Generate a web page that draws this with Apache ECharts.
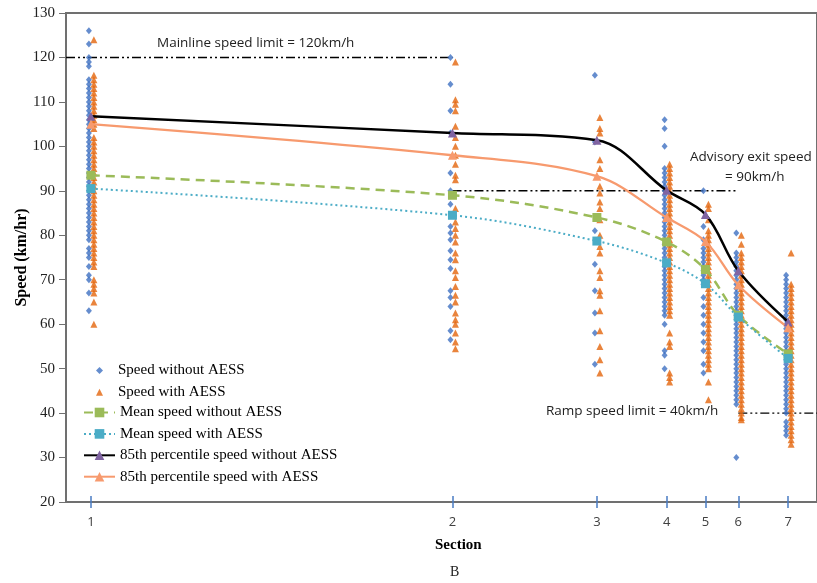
<!DOCTYPE html>
<html>
<head>
<meta charset="utf-8">
<script src="https://cdn.jsdelivr.net/npm/echarts@6/dist/echarts.min.js"></script>
<style>
  html, body { margin: 0; padding: 0; background: #fff; }
  #chart { width: 817px; height: 583px; }
</style>
</head>
<body>
<div id="chart"></div>
<script>
// Section labels and their along-road positions (distance units on the x axis)
const sectionLabels = ['1', '2', '3', '4', '5', '6', '7'];
const sectionPos = [25, 388, 533, 603, 642, 675, 725];
const xMax = 754;

// Individual spot speeds (km/h) per section, without the AESS
const speedWithout = [
  [126, 123, 120, 119, 118, 115, 114, 113, 112, 111, 110, 109, 108, 107, 106, 105, 104, 103, 102, 101, 100, 99, 98, 97, 96, 95, 94, 93, 92, 91, 90, 89, 88, 87, 86, 85, 84, 83, 82, 81, 80, 79, 77, 76, 75, 73, 71, 70, 67, 63],
  [120, 114, 108, 103, 94, 90, 87, 82, 80.5, 79, 76.5, 74.5, 72.5, 67.5, 66, 64, 58.5, 56.5],
  [116, 101, 81, 73.5, 67.5, 62.5, 58, 51],
  [106, 104, 100, 95, 94, 93, 92, 91, 90, 89, 88, 87, 86, 85, 84, 83, 82, 81, 80, 79, 78, 77, 76, 75, 74, 73, 72, 71, 70, 69, 68, 67, 66, 65, 64, 63, 62, 60, 54, 53, 50],
  [90, 82, 79, 77, 76, 75, 74, 73, 72, 71, 70, 69, 66, 64, 62, 60, 58, 56, 54, 51, 49],
  [80.5, 76, 75, 74, 73, 72, 71, 70, 69, 68, 67, 66, 65, 64, 63, 62, 61, 60, 59, 58, 57, 56, 55, 54, 53, 52, 51, 50, 49, 48, 47, 46, 45, 44, 43, 42, 30],
  [71, 70, 69, 68, 67, 66, 65, 64, 63, 62, 61, 60, 59, 58, 57, 56, 55, 54, 53, 52, 51, 50, 49, 48, 47, 46, 45, 44, 43, 42, 41, 40, 38, 37, 36, 35]
];

// Individual spot speeds (km/h) per section, with the AESS
const speedWith = [
  [124, 116, 115, 114, 113, 112, 111, 110, 109, 108, 107, 106, 105, 104, 102, 101, 100, 99, 98, 97, 96, 95, 94, 93, 92, 91, 90, 89, 88, 87, 86, 85, 84, 83, 82, 81, 80, 79, 78, 77, 76, 75, 74, 73, 70, 69, 68, 67, 65, 60],
  [119, 110.5, 109.5, 108, 104.5, 102, 100, 98, 96, 93.5, 92.5, 86, 83, 81.5, 80, 78.5, 76, 74.5, 72, 70.5, 68.5, 66.5, 65, 62.5, 61, 60, 58, 56, 54.5],
  [106.5, 104, 103, 97, 95, 91, 89.5, 87.5, 86, 83.5, 80, 77.5, 76, 72, 70.5, 67.5, 66.5, 63, 58.5, 55, 52, 49],
  [96, 95, 94, 93, 92, 91, 90, 89, 88, 87, 86, 85, 84, 83, 82, 81, 80, 79, 78, 77, 76, 75, 74, 73, 72, 71, 70, 69, 68, 67, 66, 65, 64, 63, 62, 58, 56, 55, 49, 48, 47],
  [87, 86, 83.5, 81, 80, 79, 78, 77, 76, 75, 74, 73, 72, 71, 70, 69, 68, 67, 66, 65, 64, 63, 62, 61, 60, 59, 58, 57, 56, 55, 54, 53, 52, 51, 50, 47, 43],
  [80, 78, 76, 75, 74, 73, 72, 71, 70, 69, 68, 67, 66, 65, 64, 63, 62, 61, 60, 59, 58, 57, 56, 55, 54, 53, 52, 51, 50, 49, 48, 47, 46, 45, 44, 43, 42, 41, 40, 39, 38.5],
  [76, 69, 68, 67, 66, 65, 64, 63, 62, 61, 60, 59, 58, 57, 56, 55, 54, 53, 52, 51, 50, 49, 48, 47, 46, 45, 44, 43, 42, 41, 40, 39, 38, 37, 36, 35, 34, 33]
];

// Summary speeds per section (km/h)
const meanWithout = [93.5, 89, 84, 78.5, 72.3, 62, 53.3];
const meanWith = [90.5, 84.5, 78.7, 73.8, 69.1, 61.6, 52.3];
const p85Without = [106.8, 103, 101.4, 90.1, 84.7, 72, 60.5];
const p85With = [105, 98, 93.3, 84, 78.6, 68.8, 59.2];

// Posted / advisory limits (km/h)
const mainlineLimit = 120;
const advisoryLimit = 90;
const rampLimit = 40;

const seriesNames = [
  'Speed without AESS',
  'Speed with AESS',
  'Mean speed without AESS',
  'Mean speed with AESS',
  '85th percentile speed without AESS',
  '85th percentile speed with AESS'
];

function scatterPoints(groups) {
  const pts = [];
  groups.forEach((vals, i) => vals.forEach(v => pts.push([sectionPos[i], v])));
  return pts;
}
function linePoints(vals) {
  return vals.map((v, i) => [sectionPos[i], v]);
}

const serif = '"Liberation Serif", "DejaVu Serif", serif';
const sans = '"Open Sans", "Liberation Sans", sans-serif';

const limitStyle = { color: '#000', width: 1.4, type: [9, 3, 2, 3, 2, 3] };
function limitLine(x0, x1, y) {
  return {
    type: 'line', silent: true, symbol: 'none', z: 1,
    data: [[x0, y], [x1, y]],
    lineStyle: limitStyle
  };
}

const legendText = { fontFamily: serif, fontSize: 15, lineHeight: 15, color: '#000' };

const chart = echarts.init(document.getElementById('chart'), null, { renderer: 'canvas' });

chart.setOption({
  animation: false,
  backgroundColor: '#fff',
  grid: {
    left: 66, right: -3, top: 13, bottom: 81,
    show: true, borderColor: '#707070', borderWidth: 2, backgroundColor: 'transparent'
  },
  legend: [
    {
      data: seriesNames.slice(0, 2),
      orient: 'vertical', left: 96, top: 363, padding: 0,
      itemWidth: 7, itemHeight: 7, itemGap: 6.7,
      textStyle: Object.assign({}, legendText, { padding: [0, 0, 0, 10] }),
      selectedMode: false
    },
    {
      data: seriesNames.slice(2),
      orient: 'vertical', left: 83, top: 405, padding: 0,
      itemWidth: 31, itemHeight: 12, itemGap: 6.4,
      textStyle: legendText,
      selectedMode: false
    }
  ],
  xAxis: [
    {
      type: 'value', min: 0, max: xMax, position: 'bottom',
      splitLine: { show: false },
      axisLine: { lineStyle: { color: '#707070', width: 2 } },
      axisTick: { customValues: sectionPos, length: 6, lineStyle: { color: '#4a7cc4', width: 1.5 } },
      axisLabel: {
        customValues: sectionPos,
        formatter: v => sectionLabels[sectionPos.indexOf(v)],
        fontFamily: sans, fontSize: 13, color: '#404040', margin: 14
      }
    },
    {
      type: 'value', min: 0, max: xMax, position: 'bottom',
      splitLine: { show: false },
      axisLine: { show: false },
      axisTick: { customValues: sectionPos, inside: true, length: 6, lineStyle: { color: '#4a7cc4', width: 1.5 } },
      axisLabel: { show: false }
    }
  ],
  yAxis: {
    type: 'value', min: 20, max: 130, interval: 10,
    name: 'Speed (km/hr)', nameLocation: 'middle', nameGap: 36, nameMoveOverlap: false,
    nameTextStyle: { fontFamily: serif, fontSize: 16, fontWeight: 'bold', color: '#000' },
    splitLine: { show: false },
    axisLine: { show: true, lineStyle: { color: '#707070', width: 2 } },
    axisTick: { show: true, length: 7, lineStyle: { color: '#707070', width: 1 } },
    axisLabel: { fontFamily: serif, fontSize: 15, color: '#222', margin: 11 }
  },
  graphic: [
    { type: 'text', left: 157, top: 36, style: { text: 'Mainline speed limit = 120km/h', font: '13.5px ' + sans, fill: '#222' } },
    { type: 'text', left: 690, top: 150, style: { text: 'Advisory exit speed', font: '13.5px ' + sans, fill: '#222' } },
    { type: 'text', left: 725, top: 170, style: { text: '= 90km/h', font: '13.5px ' + sans, fill: '#222' } },
    { type: 'text', left: 546, top: 404, style: { text: 'Ramp speed limit = 40km/h', font: '13.5px ' + sans, fill: '#222' } },
    { type: 'text', left: 435, top: 538, style: { text: 'Section', font: 'bold 15px ' + serif, fill: '#000' } },
    { type: 'text', left: 450, top: 565, style: { text: 'B', font: '14px ' + serif, fill: '#222' } }
  ],
  series: [
    limitLine(0, sectionPos[1], mainlineLimit),
    limitLine(sectionPos[1], sectionPos[5], advisoryLimit),
    limitLine(sectionPos[5], xMax, rampLimit),
    {
      name: seriesNames[0], type: 'scatter', z: 2,
      symbol: 'diamond', symbolSize: [6, 7], symbolOffset: [-2, 0],
      itemStyle: { color: '#3e70c2' },
      data: scatterPoints(speedWithout)
    },
    {
      name: seriesNames[1], type: 'scatter', z: 2,
      symbol: 'triangle', symbolSize: [7, 7], symbolOffset: [3, 0],
      itemStyle: { color: '#e4650c' },
      data: scatterPoints(speedWith)
    },
    {
      name: seriesNames[2], type: 'line', z: 3, smooth: 0.35,
      symbol: 'rect', symbolSize: 9, showAllSymbol: true,
      lineStyle: { color: '#9bbb59', width: 2.5, type: [9, 6] },
      itemStyle: { color: '#9bbb59' },
      data: linePoints(meanWithout)
    },
    {
      name: seriesNames[3], type: 'line', z: 3, smooth: 0.35,
      symbol: 'rect', symbolSize: 9, showAllSymbol: true,
      lineStyle: { color: '#4bacc6', width: 2, type: [2, 3] },
      itemStyle: { color: '#4bacc6' },
      data: linePoints(meanWith)
    },
    {
      name: seriesNames[4], type: 'line', z: 4, smooth: 0.35,
      symbol: 'triangle', symbolSize: 9, showAllSymbol: true,
      lineStyle: { color: '#000', width: 2.5 },
      itemStyle: { color: '#8064a2' },
      data: linePoints(p85Without)
    },
    {
      name: seriesNames[5], type: 'line', z: 4, smooth: 0.35,
      symbol: 'triangle', symbolSize: 9, showAllSymbol: true,
      lineStyle: { color: '#f79a6e', width: 2.3 },
      itemStyle: { color: '#f79a6e' },
      data: linePoints(p85With)
    }
  ]
});
</script>
</body>
</html>
